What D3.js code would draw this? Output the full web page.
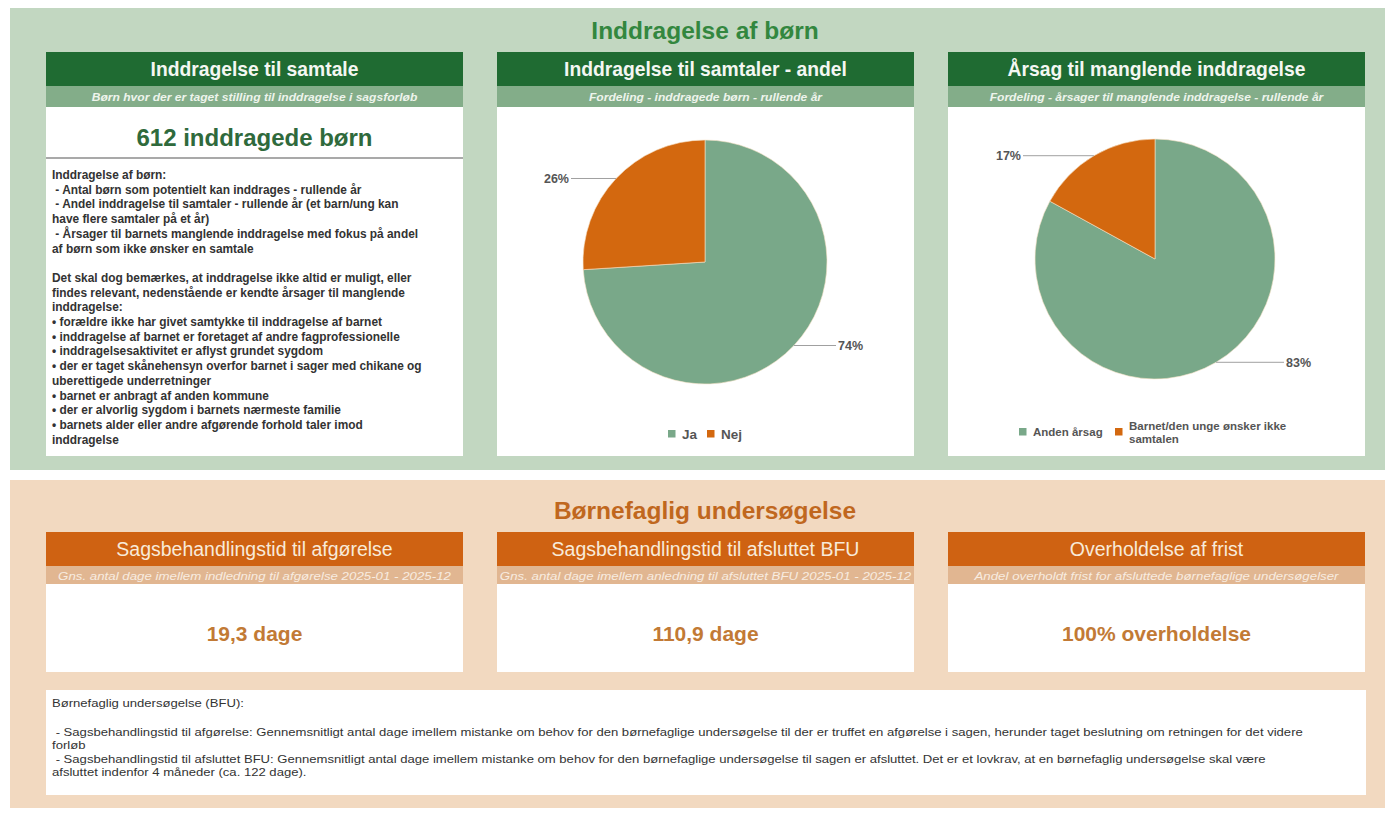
<!DOCTYPE html>
<html><head><meta charset="utf-8">
<script src="https://cdn.jsdelivr.net/npm/d3@7"></script>
<style>
body{margin:0;background:#fff}
svg text{font-family:"Liberation Sans",Arial,Helvetica,sans-serif}
</style>
</head><body>
<svg id="chart" width="1393" height="816"></svg>
<script>
// ---------- DATA ----------
const sectionTitles = ["Inddragelse af børn", "Børnefaglig undersøgelse"];
const topPanelTitles = ["Inddragelse til samtale", "Inddragelse til samtaler - andel", "Årsag til manglende inddragelse"];
const topPanelSubtitles = [
  "Børn hvor der er taget stilling til inddragelse i sagsforløb",
  "Fordeling - inddragede børn - rullende år",
  "Fordeling - årsager til manglende inddragelse - rullende år"
];
const topKpi = "612 inddragede børn";
const leftTextLines = [
  "Inddragelse af børn:",
  " - Antal børn som potentielt kan inddrages - rullende år",
  " - Andel inddragelse til samtaler - rullende år (et barn/ung kan",
  "have flere samtaler på et år)",
  " - Årsager til barnets manglende inddragelse med fokus på andel",
  "af børn som ikke ønsker en samtale",
  "",
  "Det skal dog bemærkes, at inddragelse ikke altid er muligt, eller",
  "findes relevant, nedenstående er kendte årsager til manglende",
  "inddragelse:",
  "• forældre ikke har givet samtykke til inddragelse af barnet",
  "• inddragelse af barnet er foretaget af andre fagprofessionelle",
  "• inddragelsesaktivitet er aflyst grundet sygdom",
  "• der er taget skånehensyn overfor barnet i sager med chikane og",
  "uberettigede underretninger",
  "• barnet er anbragt af anden kommune",
  "• der er alvorlig sygdom i barnets nærmeste familie",
  "• barnets alder eller andre afgørende forhold taler imod",
  "inddragelse"
];
const pieACategories = ["Ja", "Nej"];
const pieAValues = [74, 26];
const pieBCategories = ["Anden årsag", "Barnet/den unge ønsker ikke samtalen"];
const pieBValues = [83, 17];
const bottomPanelTitles = ["Sagsbehandlingstid til afgørelse", "Sagsbehandlingstid til afsluttet BFU", "Overholdelse af frist"];
const bottomPanelSubtitles = [
  "Gns. antal dage imellem indledning til afgørelse 2025-01 - 2025-12",
  "Gns. antal dage imellem anledning til afsluttet BFU 2025-01 - 2025-12",
  "Andel overholdt frist for afsluttede børnefaglige undersøgelser"
];
const bottomKpiValues = ["19,3 dage", "110,9 dage", "100% overholdelse"];
const bottomTextLines = [
  "Børnefaglig undersøgelse (BFU):",
  "",
  " - Sagsbehandlingstid til afgørelse: Gennemsnitligt antal dage imellem mistanke om behov for den børnefaglige undersøgelse til der er truffet en afgørelse i sagen, herunder taget beslutning om retningen for det videre",
  "forløb",
  " - Sagsbehandlingstid til afsluttet BFU: Gennemsnitligt antal dage imellem mistanke om behov for den børnefaglige undersøgelse til sagen er afsluttet. Det er et lovkrav, at en børnefaglig undersøgelse skal være",
  "afsluttet indenfor 4 måneder (ca. 122 dage)."
];

// ---------- STYLE ----------
const C = {
  greenBg: "#c2d7c1", greenHead: "#1f6b32", greenSub: "#83ad89", greenTitle: "#33873f", greenKpi: "#2f6a3c",
  peachBg: "#f2d9c0", orangeHead: "#cf6212", orangeSub: "#e1b691", orangeTitle: "#c0671e", orangeKpi: "#c27a35",
  pieGreen: "#79a889", pieOrange: "#d3680f", text: "#333"
};

const svg = d3.select("#chart");
const panelX = [46, 497, 948];
const panelW = 417;

// text placed at (x,y) with horizontal scale sx
function sText(parent, x, y, sx, anchor) {
  return parent.append("text").attr("transform", `translate(${x},${y}) scale(${sx},1)`)
    .attr("x", 0).attr("y", 0).attr("text-anchor", anchor || "start");
}

// ---------- TOP SECTION ----------
svg.append("rect").attr("x", 10).attr("y", 8).attr("width", 1375).attr("height", 462).attr("fill", C.greenBg);
svg.append("text").attr("x", 705).attr("y", 39).attr("text-anchor", "middle")
  .attr("font-size", 24.5).attr("font-weight", "bold").attr("fill", C.greenTitle).text(sectionTitles[0]);

panelX.forEach((x, i) => {
  svg.append("rect").attr("x", x).attr("y", 52).attr("width", panelW).attr("height", 34).attr("fill", C.greenHead);
  svg.append("rect").attr("x", x).attr("y", 86).attr("width", panelW).attr("height", 21).attr("fill", C.greenSub);
  svg.append("rect").attr("x", x).attr("y", 107).attr("width", panelW).attr("height", 349).attr("fill", "#fff");
  svg.append("text").attr("x", x + panelW / 2).attr("y", 76).attr("text-anchor", "middle")
    .attr("font-size", 19.3).attr("font-weight", "bold").attr("fill", "#f4f7f2").text(topPanelTitles[i]);
  sText(svg, x + panelW / 2, 100.5, 1.15, "middle")
    .attr("font-size", 10.5).attr("font-weight", "bold").attr("font-style", "italic").attr("fill", "#eef4ec")
    .text(topPanelSubtitles[i]);
});

// left KPI + text
svg.append("text").attr("x", panelX[0] + panelW / 2).attr("y", 146).attr("text-anchor", "middle")
  .attr("font-size", 24).attr("font-weight", "bold").attr("fill", C.greenKpi).text(topKpi);
svg.append("line").attr("x1", panelX[0]).attr("x2", panelX[0] + panelW).attr("y1", 158).attr("y2", 158)
  .attr("stroke", "#8c8c8c").attr("stroke-width", 1.5);
svg.append("g").selectAll("text").data(leftTextLines).join("text")
  .attr("x", 52).attr("y", (d, i) => 179 + i * 14.7)
  .attr("font-size", 11.9).attr("font-weight", "bold").attr("fill", C.text)
  .style("white-space", "pre").text(d => d);

// ---------- PIES ----------
function drawPie(cx, cy, r, cats, vals, legendCfg) {
  const color = d3.scaleOrdinal().domain(cats).range([C.pieGreen, C.pieOrange]);
  const pie = d3.pie().sort(null).value(d => d.v);
  const data = pie(cats.map((c, i) => ({ c, v: vals[i] })));
  const arc = d3.arc().innerRadius(0).outerRadius(r);
  const g = svg.append("g").attr("transform", `translate(${cx},${cy})`);
  g.selectAll("path").data(data).join("path").attr("d", arc)
    .attr("fill", d => color(d.data.c)).attr("stroke", "#f7e2c8").attr("stroke-width", 0.6);
  const total = d3.sum(vals);
  data.forEach(d => {
    const a = (d.startAngle + d.endAngle) / 2;
    const px = Math.sin(a) * r, py = -Math.cos(a) * r;
    const right = px > 0;
    const lx = right ? r + 9 : -(r + 12);
    g.append("line").attr("x1", px).attr("y1", py).attr("x2", lx).attr("y2", py)
      .attr("stroke", "#a0a0a0").attr("stroke-width", 1);
    g.append("text").attr("x", right ? lx + 2 : lx - 2).attr("y", py + 4.5)
      .attr("text-anchor", right ? "start" : "end")
      .attr("font-size", 12.5).attr("font-weight", "bold").attr("fill", "#555")
      .text(Math.round(d.data.v / total * 100) + "%");
  });
  // legend
  const lg = svg.append("g");
  legendCfg.items.forEach((it, i) => {
    lg.append("rect").attr("x", it.x).attr("y", legendCfg.y - 4).attr("width", 7.5).attr("height", 7.5)
      .attr("fill", color(cats[i]));
    const t = lg.append("text").attr("x", it.x + 14).attr("font-size", legendCfg.fs).attr("font-weight", "bold").attr("fill", "#555");
    const lines = it.lines || [cats[i]];
    lines.forEach((ln, k) => {
      t.append("tspan").attr("x", it.x + 14)
        .attr("y", legendCfg.y + legendCfg.fs * 0.36 + (k - (lines.length - 1) / 2) * 13)
        .text(ln);
    });
  });
}

drawPie(705, 262, 122, pieACategories, pieAValues,
  { y: 434, fs: 13.5, items: [{ x: 668 }, { x: 707 }] });
drawPie(1155, 259, 120, pieBCategories, pieBValues,
  { y: 432, fs: 11.5, items: [{ x: 1019 }, { x: 1115, lines: ["Barnet/den unge ønsker ikke", "samtalen"] }] });

// ---------- BOTTOM SECTION ----------
svg.append("rect").attr("x", 10).attr("y", 480).attr("width", 1375).attr("height", 328).attr("fill", C.peachBg);
svg.append("text").attr("x", 705).attr("y", 519).attr("text-anchor", "middle")
  .attr("font-size", 24.5).attr("font-weight", "bold").attr("fill", C.orangeTitle).text(sectionTitles[1]);

panelX.forEach((x, i) => {
  svg.append("rect").attr("x", x).attr("y", 532).attr("width", panelW).attr("height", 34).attr("fill", C.orangeHead);
  svg.append("rect").attr("x", x).attr("y", 566).attr("width", panelW).attr("height", 18).attr("fill", C.orangeSub);
  svg.append("rect").attr("x", x).attr("y", 584).attr("width", panelW).attr("height", 88).attr("fill", "#fff");
  svg.append("text").attr("x", x + panelW / 2).attr("y", 556).attr("text-anchor", "middle")
    .attr("font-size", 19.5).attr("fill", "#f8ead9").text(bottomPanelTitles[i]);
  sText(svg, x + panelW / 2, 579.5, 1.21, "middle")
    .attr("font-size", 11).attr("font-style", "italic").attr("fill", "#f8ece0").text(bottomPanelSubtitles[i]);
  svg.append("text").attr("x", x + panelW / 2).attr("y", 641).attr("text-anchor", "middle")
    .attr("font-size", 21).attr("font-weight", "bold").attr("fill", C.orangeKpi).text(bottomKpiValues[i]);
});

svg.append("rect").attr("x", 46).attr("y", 690).attr("width", 1320).attr("height", 105).attr("fill", "#fff");
const bottomY = [707, 707, 736, 748.5, 763, 775.5];
const bt = svg.append("g");
bottomTextLines.forEach((d, i) => {
  sText(bt, 52, bottomY[i], 1.19).attr("font-size", 11).attr("fill", "#333")
    .style("white-space", "pre").text(d);
});
</script>
</body></html>
